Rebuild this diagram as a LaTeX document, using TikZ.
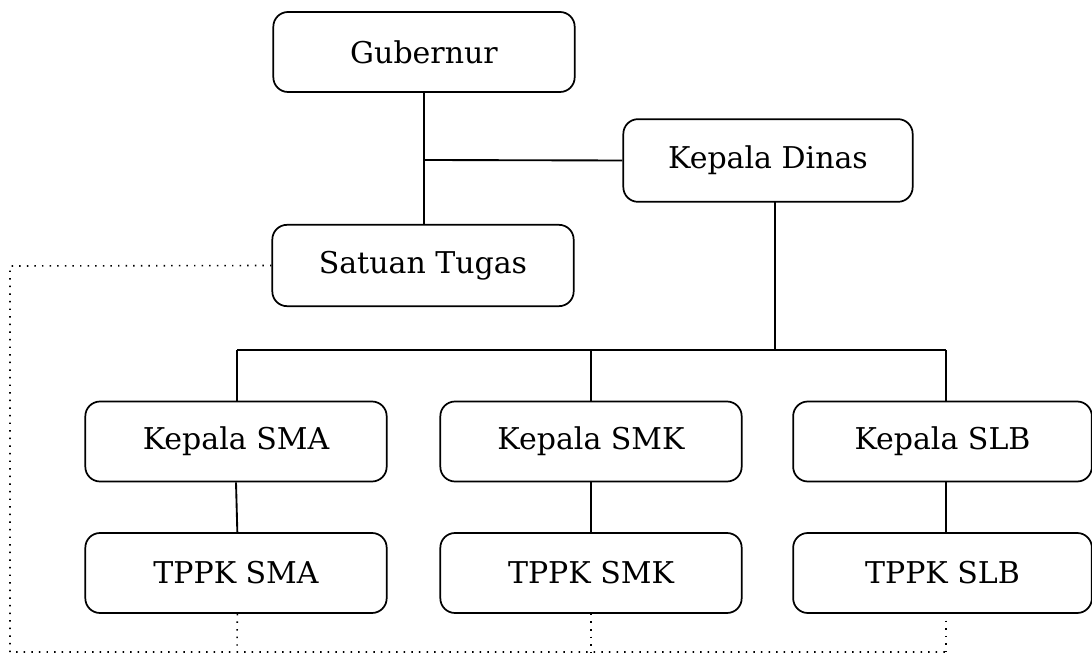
\documentclass[tikz,border=0pt]{standalone}
\usepackage{fontspec}
\setmainfont{DejaVu Serif}
\begin{document}
\begin{tikzpicture}[x=0.75pt,y=-0.75pt,
  box/.style={draw,line width=1.3pt,rounded corners=11pt,minimum width=226pt,minimum height=60pt,inner sep=0pt,font=\fontsize{22.5}{26}\selectfont},
  link/.style={line width=1.4pt},
  dotlink/.style={line width=1.2pt,dash pattern=on 1.1pt off 4.6pt}]
\useasboundingbox (0,0) rectangle (1092,655);
% top level
\node[box] (gub) at (424,52) {Gubernur};
\node[box,minimum width=217pt,minimum height=62pt] (kd) at (768,160.5) {Kepala Dinas};
\node[box,minimum height=61pt] (sat) at (423,265.5) {Satuan Tugas};
% school heads
\node[box] (ksma) at (236,441.5) {Kepala SMA};
\node[box] (ksmk) at (591,441.5) {Kepala SMK};
\node[box,minimum width=224pt] (kslb) at (942.5,441.5) {Kepala SLB};
% TPPK units
\node[box] (tsma) at (236,573) {TPPK SMA};
\node[box] (tsmk) at (591,573) {TPPK SMK};
\node[box,minimum width=224pt] (tslb) at (942.5,573) {TPPK SLB};
% solid hierarchy lines
\coordinate (kdj) at (424,160);
\draw[link] (gub.south) -- (sat.north -| gub.south);
\draw[link] (kd.west) -- (kdj);
\coordinate (kdb) at (775,202);
\coordinate (bus) at (775,350);
\draw[link,line width=1.9pt] (kdb) -- (bus);
\coordinate (busl) at (237,350);
\coordinate (busr) at (946,350);
\draw[link] (busl) -- (busr);
\draw[link] (busl) -- (237,401) coordinate (a1);
\draw[link] (ksmk.north |- bus) -- (ksmk.north);
\draw[link] (busr) -- (946,401) coordinate (a3);
\draw[link] (ksma.south) -- ([xshift=1]tsma.north);
\draw[link] (ksmk.south) -- (tsmk.north);
\draw[link] (946,482) -- (946,533);
% dotted coordination lines
\coordinate (dl) at (10,266);
\coordinate (db) at (10,652);
\draw[dotlink] (sat.west) -- (dl) -- (db) -- (946,652);
\draw[dotlink] ([xshift=1]tsma.south) -- (237,652);
\draw[dotlink] (tsmk.south) -- (591,652);
\draw[dotlink] (946,613) -- (946,652);
\end{tikzpicture}
\end{document}
